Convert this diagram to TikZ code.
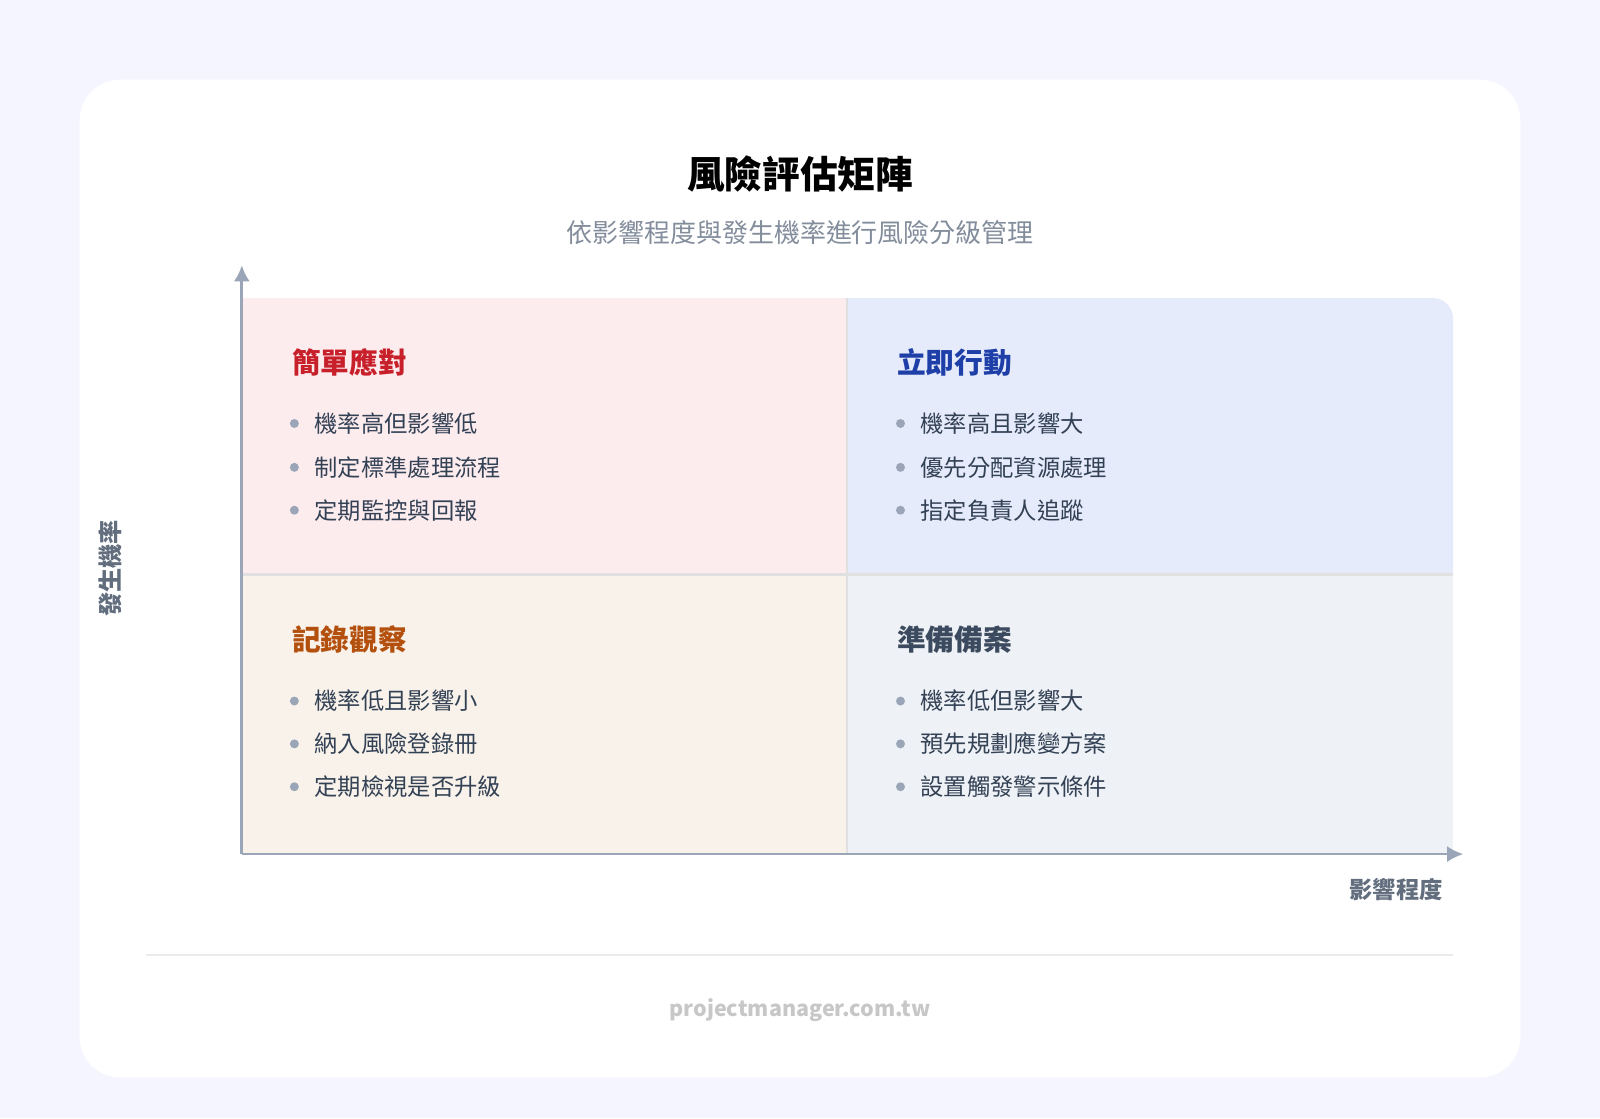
\documentclass[tikz,border=0pt]{standalone}
\usepackage{fontspec}
\setmainfont{Noto Sans CJK TC}
\usepackage{xcolor}
\usepackage{tikz}
\usetikzlibrary{positioning}
\usetikzlibrary{calc}
\usetikzlibrary{arrows.meta}
\definecolor{qred}{HTML}{FDECEE}
\definecolor{qblue}{HTML}{E5EBFB}
\definecolor{qcream}{HTML}{F8F2EA}
\definecolor{qgray}{HTML}{EEF1F5}
\definecolor{tred}{HTML}{C8202A}
\definecolor{tblue}{HTML}{1E3FA8}
\definecolor{torange}{HTML}{B4500E}
\definecolor{tslate}{HTML}{3B4A5E}
\definecolor{axisc}{HTML}{9AA6B8}
\definecolor{txt}{HTML}{334155}

\begin{document}
\begin{tikzpicture}[x=0.02cm, y=-0.02cm, >=latex,
    qtitle/.style={anchor=west, font=\bfseries\fontsize{16}{18}\selectfont},
    item/.style={anchor=west, text=txt, font=\fontsize{13}{15}\selectfont},
    dot/.style={circle, fill=axisc, inner sep=0pt, minimum size=5pt}]
    \fill[color=white!96!blue] (0,0) rectangle (1568,1096);
    \useasboundingbox (0,0) rectangle (1568,1096);
    \fill[white, rounded corners=0.8cm] (78,78) rectangle (1490,1056);

    \node (title) at (784,170) {\bfseries\fontsize{21}{24}\selectfont 風險評估矩陣};
    \node[text=axisc!85!black] (sub) at (784,228) {\fontsize{14.5}{17}\selectfont 依影響程度與發生機率進行風險分級管理};

    % quadrants
    \fill[qred] (238,292) rectangle (830,563);
    \fill[qblue] (830,563) -- (830,292) [rounded corners=0.4cm] -- (1424,292) [sharp corners] -- (1424,563) -- cycle;
    \fill[qcream] (238,563) rectangle (830,837);
    \fill[qgray] (830,563) rectangle (1424,837);
    \draw[black!12, line width=1.2pt] (238,563) -- (1424,563);
    \draw[black!12, line width=1.2pt] (830,292) -- (830,837);

    % axes
    \coordinate (origin) at (237,837);
    \coordinate (ytop) at (237,260);
    \coordinate (xend) at (1434,837);
    \draw[-{Latex[length=9pt,width=9pt]}, axisc, line width=1.5pt] (origin) -- (ytop);
    \draw[-{Latex[length=9pt,width=9pt]}, axisc, line width=1.5pt] (origin) -- (xend);
    \node[anchor=east, text=tslate!80] (xlab) at (1420,872) {\bfseries\fontsize{13}{15}\selectfont 影響程度};
    \node[rotate=90, text=tslate!80] (ylab) at (108,557) {\bfseries\fontsize{13.5}{15}\selectfont 發生機率};

    % top left
    \node[qtitle, text=tred] (tl) at (280,355) {簡單應對};
    \node[item] (tl1) at (302,415) {機率高但影響低};
    \node[item] (tl2) at (302,458) {制定標準處理流程};
    \node[item] (tl3) at (302,500) {定期監控與回報};
    % top right
    \node[qtitle, text=tblue] (tr) at (873,355) {立即行動};
    \node[item] (tr1) at (896,415) {機率高且影響大};
    \node[item] (tr2) at (896,458) {優先分配資源處理};
    \node[item] (tr3) at (896,500) {指定負責人追蹤};
    % bottom left
    \node[qtitle, text=torange] (bl) at (280,627) {記錄觀察};
    \node[item] (bl1) at (302,687) {機率低且影響小};
    \node[item] (bl2) at (302,729) {納入風險登錄冊};
    \node[item] (bl3) at (302,771) {定期檢視是否升級};
    % bottom right
    \node[qtitle, text=tslate] (br) at (873,627) {準備備案};
    \node[item] (br1) at (896,687) {機率低但影響大};
    \node[item] (br2) at (896,729) {預先規劃應變方案};
    \node[item] (br3) at (896,771) {設置觸發警示條件};

    \foreach \n in {tl1,tl2,tl3,tr1,tr2,tr3,bl1,bl2,bl3,br1,br2,br3}
        \node[dot, left=5pt of \n.west] {};

    \draw[black!8, line width=0.8pt] (143,936) -- (1424,936);
    \node[text=black!22] (foot) at (784,990) {\bfseries\fontsize{12}{14}\selectfont projectmanager.com.tw};
\end{tikzpicture}
\end{document}
